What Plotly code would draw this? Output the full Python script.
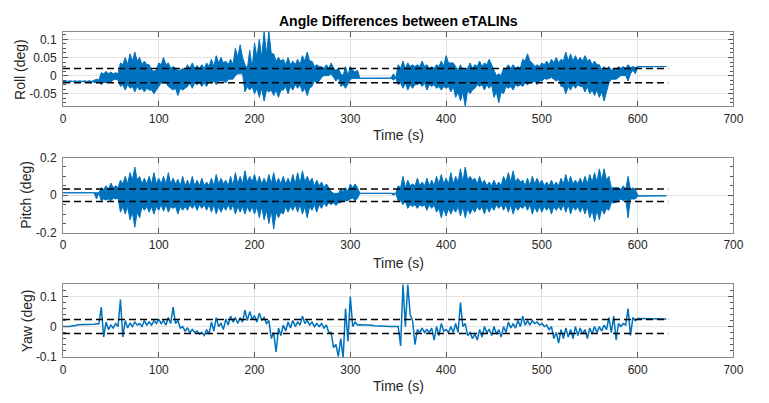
import plotly.graph_objects as go

# ---------------- data ----------------
# time grid of the envelope samples (s)
T = list(range(0, 635, 5))
# time grid of the dense "core" of the noise band (s)
TC = list(range(0, 635, 10))

# extreme (spike) values of roll in each 5 s bin
ROLL_HI = [
    -0.016, -0.016, -0.016, -0.016, -0.016, -0.016, -0.016, -0.010, 0.008, 0.012,
    0.010, 0.008, 0.035, 0.050, 0.060, 0.065, 0.050, 0.040, 0.030, 0.012,
    0.035, 0.050, 0.035, 0.025, 0.015, 0.020, 0.030, 0.035, 0.028, 0.030,
    0.035, 0.045, 0.055, 0.050, 0.040, 0.045, 0.075, 0.085, 0.030, 0.070,
    0.090, 0.100, 0.120, 0.120, 0.060, 0.050, 0.045, 0.050, 0.040, 0.045,
    0.055, 0.065, 0.040, 0.030, 0.025, 0.030, 0.035, 0.015, 0.005, 0.025,
    0.025, 0.010, -0.007, -0.007, -0.007, -0.007, -0.007, -0.007, -0.007, 0.005,
    0.030, 0.040, 0.035, 0.030, 0.030, 0.040, 0.030, 0.025, 0.030, 0.040,
    0.055, 0.035, 0.025, 0.030, 0.020, 0.035, 0.030, 0.040, 0.035, 0.045,
    0.015, 0.005, 0.020, 0.030, 0.030, 0.025, 0.045, 0.060, 0.035, 0.030,
    0.035, 0.040, 0.045, 0.050, 0.045, 0.065, 0.060, 0.055, 0.050, 0.055,
    0.045, 0.040, 0.030, 0.025, 0.025, 0.020, 0.025, 0.025, 0.030, 0.025,
    0.025, 0.025, 0.025, 0.025, 0.025, 0.025, 0.025,
]
ROLL_LO = [
    -0.016, -0.016, -0.016, -0.016, -0.016, -0.016, -0.016, -0.020, -0.025, -0.020,
    -0.018, -0.010, -0.030, -0.040, -0.035, -0.045, -0.040, -0.045, -0.040, -0.050,
    -0.030, -0.020, -0.030, -0.040, -0.055, -0.040, -0.030, -0.035, -0.025, -0.030,
    -0.030, -0.020, -0.025, -0.015, -0.020, -0.010, 0.000, 0.005, -0.045, -0.040,
    -0.050, -0.060, -0.070, -0.045, -0.055, -0.060, -0.040, -0.050, -0.040, -0.035,
    -0.045, -0.055, -0.030, -0.020, -0.005, 0.000, 0.005, -0.015, -0.030, -0.035,
    -0.010, -0.008, -0.007, -0.007, -0.007, -0.007, -0.007, -0.007, -0.007, -0.012,
    -0.025, -0.035, -0.040, -0.035, -0.025, -0.030, -0.040, -0.030, -0.035, -0.040,
    -0.035, -0.045, -0.060, -0.070, -0.085, -0.050, -0.035, -0.030, -0.040, -0.035,
    -0.060, -0.075, -0.050, -0.035, -0.040, -0.030, -0.030, -0.025, -0.020, -0.025,
    -0.015, -0.010, -0.005, -0.015, -0.030, -0.050, -0.040, -0.035, -0.030, -0.045,
    -0.050, -0.055, -0.060, -0.070, -0.020, -0.010, -0.005, 0.000, -0.015, 0.015,
    0.024, 0.024, 0.024, 0.024, 0.024, 0.024, 0.024,
]
# dense core of the roll band in each 10 s bin
ROLL_CORE_HI = [
    -0.014, -0.014, -0.014, -0.012, 0.005, 0.005, 0.030, 0.040, 0.030, 0.015,
    0.030, 0.020, 0.015, 0.020, 0.020, 0.025, 0.035, 0.030, 0.050, 0.020,
    0.050, 0.060, 0.040, 0.030, 0.030, 0.040, 0.025, 0.020, 0.020, 0.000,
    0.015, -0.007, -0.007, -0.007, -0.007, 0.020, 0.025, 0.025, 0.020, 0.025,
    0.035, 0.015, 0.020, 0.025, 0.030, 0.000, 0.020, 0.020, 0.040, 0.025,
    0.030, 0.035, 0.040, 0.040, 0.040, 0.030, 0.015, 0.015, 0.020, 0.022,
    0.025, 0.025, 0.025, 0.025,
]
ROLL_CORE_LO = [
    -0.018, -0.018, -0.018, -0.018, -0.018, -0.012, -0.025, -0.030, -0.035, -0.040,
    -0.020, -0.035, -0.035, -0.020, -0.020, -0.015, -0.015, -0.010, 0.005, -0.030,
    -0.035, -0.040, -0.040, -0.030, -0.025, -0.035, -0.015, 0.000, -0.005, -0.025,
    -0.008, -0.007, -0.007, -0.007, -0.007, -0.020, -0.025, -0.020, -0.025, -0.030,
    -0.030, -0.045, -0.040, -0.025, -0.025, -0.045, -0.030, -0.025, -0.020, -0.015,
    -0.008, -0.010, -0.030, -0.025, -0.030, -0.040, -0.045, -0.010, 0.000, 0.005,
    0.024, 0.024, 0.024, 0.024,
]

PITCH_HI = [
    0.013, 0.013, 0.013, 0.013, 0.013, 0.013, 0.013, 0.010, 0.040, 0.050,
    0.065, 0.050, 0.080, 0.100, 0.120, 0.150, 0.100, 0.090, 0.100, 0.120,
    0.090, 0.100, 0.120, 0.090, 0.085, 0.100, 0.080, 0.100, 0.080, 0.090,
    0.070, 0.090, 0.110, 0.090, 0.080, 0.100, 0.120, 0.100, 0.130, 0.100,
    0.110, 0.100, 0.090, 0.110, 0.120, 0.090, 0.100, 0.090, 0.110, 0.120,
    0.130, 0.100, 0.090, 0.080, 0.070, 0.060, 0.020, 0.010, 0.030, 0.040,
    0.060, 0.060, 0.010, 0.010, 0.010, 0.010, 0.010, 0.010, 0.010, 0.010,
    0.050, 0.100, 0.080, 0.060, 0.090, 0.070, 0.090, 0.080, 0.100, 0.110,
    0.090, 0.120, 0.100, 0.140, 0.150, 0.100, 0.090, 0.100, 0.080, 0.070,
    0.080, 0.070, 0.100, 0.120, 0.130, 0.090, 0.080, 0.090, 0.100, 0.090,
    0.080, 0.070, 0.080, 0.070, 0.090, 0.110, 0.100, 0.080, 0.090, 0.100,
    0.110, 0.120, 0.140, 0.140, 0.100, 0.040, 0.040, 0.050, 0.100, 0.040,
    0.000, -0.003, -0.003, -0.003, -0.003, -0.003, -0.003,
]
PITCH_LO = [
    0.013, 0.013, 0.013, 0.013, 0.013, 0.013, 0.013, -0.020, -0.030, -0.025,
    -0.030, -0.020, -0.090, -0.100, -0.130, -0.170, -0.120, -0.080, -0.090, -0.100,
    -0.080, -0.085, -0.090, -0.070, -0.100, -0.080, -0.080, -0.070, -0.080, -0.070,
    -0.080, -0.090, -0.100, -0.090, -0.080, -0.080, -0.100, -0.090, -0.100, -0.090,
    -0.100, -0.120, -0.130, -0.150, -0.180, -0.120, -0.100, -0.090, -0.080, -0.090,
    -0.100, -0.120, -0.080, -0.090, -0.070, -0.060, -0.050, -0.055, -0.040, -0.030,
    -0.020, -0.030, 0.010, 0.010, 0.010, 0.010, 0.010, 0.010, 0.010, 0.000,
    -0.030, -0.050, -0.070, -0.060, -0.070, -0.060, -0.080, -0.070, -0.090, -0.120,
    -0.110, -0.100, -0.090, -0.110, -0.120, -0.100, -0.090, -0.080, -0.100, -0.090,
    -0.080, -0.070, -0.080, -0.090, -0.100, -0.080, -0.070, -0.080, -0.100, -0.090,
    -0.090, -0.080, -0.100, -0.080, -0.080, -0.090, -0.100, -0.080, -0.090, -0.100,
    -0.120, -0.140, -0.130, -0.100, -0.080, -0.040, -0.030, -0.030, -0.120, -0.020,
    -0.005, -0.003, -0.003, -0.003, -0.003, -0.003, -0.003,
]
PITCH_CORE_HI = [
    0.013, 0.013, 0.013, 0.013, 0.030, 0.040, 0.060, 0.080, 0.060, 0.060,
    0.060, 0.060, 0.050, 0.050, 0.050, 0.050, 0.060, 0.050, 0.060, 0.070,
    0.060, 0.060, 0.060, 0.060, 0.060, 0.070, 0.050, 0.040, 0.010, 0.020,
    0.040, 0.010, 0.010, 0.010, 0.010, 0.040, 0.050, 0.050, 0.050, 0.060,
    0.060, 0.070, 0.080, 0.060, 0.050, 0.050, 0.070, 0.070, 0.050, 0.060,
    0.050, 0.050, 0.060, 0.060, 0.060, 0.070, 0.080, 0.040, 0.030, 0.030,
    -0.003, -0.003, -0.003, -0.003,
]
PITCH_CORE_LO = [
    0.013, 0.013, 0.013, 0.013, -0.020, -0.015, -0.060, -0.090, -0.060, -0.060,
    -0.050, -0.060, -0.060, -0.050, -0.050, -0.050, -0.060, -0.050, -0.060, -0.060,
    -0.060, -0.080, -0.090, -0.060, -0.050, -0.060, -0.050, -0.040, -0.040, -0.030,
    -0.015, 0.010, 0.010, 0.010, 0.010, -0.030, -0.050, -0.050, -0.050, -0.070,
    -0.070, -0.060, -0.070, -0.060, -0.060, -0.050, -0.050, -0.060, -0.050, -0.060,
    -0.060, -0.060, -0.050, -0.060, -0.060, -0.080, -0.070, -0.040, -0.020, -0.020,
    -0.003, -0.003, -0.003, -0.003,
]

YAW_HI = [
    0.000, 0.000, 0.003, 0.006, 0.007, 0.008, 0.008, 0.009, 0.065, 0.015,
    0.005, 0.010, 0.090, 0.020, 0.012, 0.015, 0.010, 0.020, 0.015, 0.020,
    0.025, 0.020, 0.030, 0.065, 0.020, 0.000, -0.005, -0.010, -0.015, -0.020,
    -0.010, 0.015, 0.030, 0.010, 0.025, 0.035, 0.030, 0.030, 0.055, 0.050,
    0.035, 0.045, 0.030, 0.020, -0.020, -0.005, 0.005, 0.015, 0.020, 0.015,
    0.035, 0.020, 0.015, 0.010, 0.010, 0.005, -0.020, -0.060, -0.040, 0.060,
    0.100, 0.015, 0.006, 0.005, 0.004, 0.003, 0.002, 0.001, 0.000, 0.000,
    0.000, 0.140, 0.140, 0.020, -0.010, -0.005, -0.010, -0.005, 0.000, 0.010,
    -0.010, 0.000, 0.010, 0.080, 0.010, -0.020, -0.025, -0.010, 0.000, -0.010,
    0.000, -0.010, 0.000, 0.015, 0.010, 0.020, 0.035, 0.020, 0.020, 0.015,
    0.010, 0.005, 0.000, -0.020, -0.010, -0.005, -0.010, 0.000, -0.005, -0.010,
    -0.005, 0.000, 0.000, 0.005, 0.030, 0.035, 0.010, 0.010, 0.060, 0.030,
    0.027, 0.027, 0.026, 0.026, 0.025, 0.025, 0.025,
]
YAW_LO = [
    0.000, 0.000, 0.003, 0.006, 0.007, 0.008, 0.008, 0.009, -0.035, -0.010,
    -0.005, 0.000, -0.035, -0.005, 0.000, 0.005, 0.000, 0.005, 0.005, 0.010,
    0.010, 0.005, 0.010, 0.010, -0.005, -0.015, -0.020, -0.020, -0.025, -0.030,
    -0.025, -0.015, 0.000, -0.010, 0.005, 0.015, 0.010, 0.015, 0.020, 0.025,
    0.015, 0.020, 0.010, -0.040, -0.085, -0.030, -0.015, -0.005, 0.000, 0.005,
    0.010, 0.005, 0.000, 0.000, -0.005, -0.020, -0.070, -0.100, -0.105, -0.050,
    0.000, 0.005, 0.006, 0.005, 0.004, 0.003, 0.002, 0.001, 0.000, -0.002,
    -0.065, 0.000, 0.040, -0.060, -0.020, -0.020, -0.020, -0.045, -0.030, -0.015,
    -0.020, -0.020, -0.020, 0.000, -0.030, -0.040, -0.045, -0.035, -0.020, -0.030,
    -0.025, -0.035, -0.020, -0.005, -0.005, 0.000, 0.005, 0.005, 0.010, 0.005,
    0.000, -0.010, -0.040, -0.055, -0.040, -0.035, -0.040, -0.030, -0.025, -0.040,
    -0.025, -0.020, -0.015, -0.010, -0.020, -0.045, 0.000, 0.005, -0.030, 0.020,
    0.027, 0.027, 0.026, 0.026, 0.025, 0.025, 0.025,
]

# threshold (dashed) levels and their end time
ROLL_THR = 0.0195
PITCH_THR = 0.033
YAW_THR = 0.0235
THR_T = [0, 632]

# axis ticks
X_TICKS = [0, 100, 200, 300, 400, 500, 600, 700]
ROLL_TICKS = [-0.05, 0, 0.05, 0.1]
ROLL_TICKTEXT = ["-0.05", "0", "0.05", "0.1"]
PITCH_TICKS = [-0.2, 0, 0.2]
PITCH_TICKTEXT = ["-0.2", "0", "0.2"]
YAW_TICKS = [-0.1, 0, 0.1]
YAW_TICKTEXT = ["-0.1", "0", "0.1"]

TITLE = "Angle Differences between eTALINs"
XLABEL = "Time (s)"
YLABELS = ["Roll (deg)", "Pitch (deg)", "Yaw (deg)"]

# ---------------- figure ----------------
W, H = 769, 403
BLUE = "#0072BD"
FONT = "Liberation Sans, Arial, Helvetica, sans-serif"
TXT = "#262626"

fig = go.Figure()


def band_trace(hi, lo, core_hi, core_lo, ax):
    # dense noise drawn as a filled band: spikes at the 5 s samples,
    # dense core level between them
    ux, uy, lx, ly = [], [], [], []
    for i, t in enumerate(T):
        k = TC.index(t - t % 10)
        ux.append(t)
        uy.append(hi[i])
        lx.append(t)
        ly.append(lo[i])
        if i < len(T) - 1:
            ux.append(t + 2.5)
            uy.append(core_hi[k])
            lx.append(t + 2.5)
            ly.append(core_lo[k])
    xs = ux + lx[::-1] + [ux[0]]
    ys = uy + ly[::-1] + [uy[0]]
    return go.Scatter(x=xs, y=ys, xaxis="x" + ax, yaxis="y" + ax, mode="lines",
                      fill="toself", fillcolor=BLUE,
                      line=dict(color=BLUE, width=1), hoverinfo="skip")


def zigzag_trace(hi, lo, ax, width):
    xs, ys = [], []
    for t, h, l in zip(T, hi, lo):
        xs += [t, t + 2.5]
        ys += [h, l]
    return go.Scatter(x=xs[:-1], y=ys[:-1], xaxis="x" + ax, yaxis="y" + ax,
                      mode="lines", line=dict(color=BLUE, width=width),
                      hoverinfo="skip")


def thr_traces(thr, ax):
    out = []
    for v in (thr, -thr):
        out.append(go.Scatter(x=THR_T, y=[v, v], xaxis="x" + ax, yaxis="y" + ax,
                              mode="lines",
                              line=dict(color="black", width=1.5, dash="7px,4px")))
    return out


fig.add_trace(band_trace(ROLL_HI, ROLL_LO, ROLL_CORE_HI, ROLL_CORE_LO, ""))
for tr in thr_traces(ROLL_THR, ""):
    fig.add_trace(tr)
fig.add_trace(band_trace(PITCH_HI, PITCH_LO, PITCH_CORE_HI, PITCH_CORE_LO, "2"))
for tr in thr_traces(PITCH_THR, "2"):
    fig.add_trace(tr)
fig.add_trace(zigzag_trace(YAW_HI, YAW_LO, "3", 1.5))
for tr in thr_traces(YAW_THR, "3"):
    fig.add_trace(tr)

# pixel geometry of the three plot boxes
X0, X1 = 61, 743
BOXES = [(26, 103), (156, 234), (287, 363)]
XDOM = [X0 / W, X1 / W]


def ydom(top, bot):
    return [1 - bot / H, 1 - top / H]


axis_common = dict(showline=True, linecolor="#8a8a8a", linewidth=1, mirror="ticks",
                   ticks="inside", ticklen=5, tickcolor="#555555",
                   showgrid=True, gridcolor="#e3e3e3", gridwidth=1, zeroline=False,
                   tickfont=dict(family=FONT, size=12, color=TXT))

xa = dict(axis_common, range=[0, 700], tickmode="array", tickvals=X_TICKS,
          domain=XDOM, ticklabelstandoff=1)

yspecs = [
    (ROLL_TICKS, ROLL_TICKTEXT, [-0.085, 0.12], 0.0125),
    (PITCH_TICKS, PITCH_TICKTEXT, [-0.2, 0.2], 0.05),
    (YAW_TICKS, YAW_TICKTEXT, [-0.103, 0.142], 0.02),
]

layout = dict(width=W, height=H, autosize=False,
              margin=dict(l=0, r=0, t=0, b=0, pad=0),
              paper_bgcolor="white", plot_bgcolor="white", showlegend=False)

for i, ((top, bot), (tv, tt, rng, mdt)) in enumerate(zip(BOXES, yspecs)):
    sfx = "" if i == 0 else str(i + 1)
    layout["xaxis" + sfx] = dict(xa, anchor="y" + sfx)
    layout["yaxis" + sfx] = dict(axis_common, range=rng, tickmode="array",
                                 tickvals=tv, ticktext=tt, domain=ydom(top, bot),
                                 anchor="x" + sfx, ticklabelstandoff=3,
                                 minor=dict(tickmode="linear", tick0=0, dtick=mdt,
                                            ticks="inside", ticklen=3,
                                            tickcolor="#555555", showgrid=False))

fig.update_layout(**layout)

ann = []
ann.append(dict(text="<b>" + TITLE + "</b>", x=(X0 + X1) / 2 / W, y=1 - 14 / H,
                xref="paper", yref="paper", showarrow=False, xanchor="center",
                yanchor="middle", font=dict(family=FONT, size=14, color="black")))
for yc in (133, 265, 393):
    ann.append(dict(text=XLABEL, x=(X0 + X1) / 2 / W, y=1 - yc / H,
                    xref="paper", yref="paper", showarrow=False, xanchor="center",
                    yanchor="middle", font=dict(family=FONT, size=14, color=TXT)))
for lab, xc, (top, bot) in zip(YLABELS, (18, 24, 24), BOXES):
    ann.append(dict(text=lab, x=xc / W, y=1 - (top + bot) / 2 / H,
                    xref="paper", yref="paper", showarrow=False, textangle=-90,
                    xanchor="center", yanchor="middle",
                    font=dict(family=FONT, size=14, color=TXT)))
fig.update_layout(annotations=ann)

fig.write_html("out.html")
